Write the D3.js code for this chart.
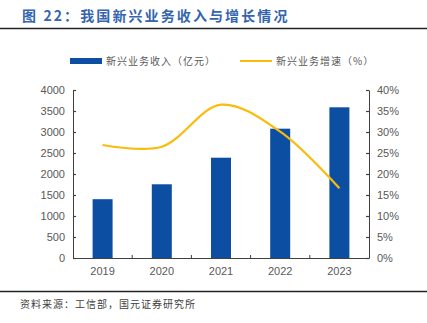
<!DOCTYPE html>
<html>
<script src="https://d3js.org/d3.v7.min.js"></script>
<style>
    body {
        margin: 0;
        background: #fff;
    }

    .tick text {
        font-family: "Liberation Sans", Arial, sans-serif;
        font-size: 11px;
        fill: #595959;
    }

    .tick line,
    .domain {
        stroke: #404040;
    }
</style>

<body>
</body>
<script>
    const years = ["2019", "2020", "2021", "2022", "2023"];
    const revenue = [1400, 1755, 2388, 3079, 3588];
    const growth = [26.9, 26.5, 36.5, 30.1, 16.6];
    const leftTicks = [0, 500, 1000, 1500, 2000, 2500, 3000, 3500, 4000];
    const rightTicks = [0, 5, 10, 15, 20, 25, 30, 35, 40];

    const width = 427,
        height = 323;
    const cjk = "'Noto Sans CJK SC', sans-serif";
    const svg = d3.select("body").append("svg").attr("width", width).attr("height", height);

    // title and rules
    svg.append("text")
        .attr("x", 22)
        .attr("y", 21)
        .attr("font-family", cjk)
        .attr("font-size", 14)
        .attr("font-weight", "bold")
        .attr("letter-spacing", 2.1)
        .attr("fill", "#3565ad")
        .text("图 22：我国新兴业务收入与增长情况");
    svg.append("line")
        .attr("x1", 0).attr("x2", width)
        .attr("y1", 28.5).attr("y2", 28.5)
        .attr("stroke", "#222").attr("stroke-width", 1.5);
    svg.append("line")
        .attr("x1", 0).attr("x2", width)
        .attr("y1", 291.5).attr("y2", 291.5)
        .attr("stroke", "#222").attr("stroke-width", 1.5);
    svg.append("text")
        .attr("x", 20)
        .attr("y", 308)
        .attr("font-family", cjk)
        .attr("font-size", 10)
        .attr("letter-spacing", 1)
        .attr("fill", "#404040")
        .text("资料来源：工信部，国元证券研究所");

    const x = d3.scaleBand()
        .domain(years)
        .range([73, 369]);
    const y = d3.scaleLinear()
        .domain([0, 4000])
        .range([258, 90]);
    const y2 = d3.scaleLinear()
        .domain([0, 40])
        .range([258, 90]);

    const barW = 20;
    svg.selectAll("rect.bar")
        .data(years)
        .join("rect")
        .attr("class", "bar")
        .attr("x", d => x(d) + x.bandwidth() / 2 - barW / 2)
        .attr("y", (d, i) => y(revenue[i]))
        .attr("width", barW)
        .attr("height", (d, i) => y(0) - y(revenue[i]))
        .attr("fill", "#0b4ea2");

    svg.append("path")
        .datum(years)
        .attr("fill", "none")
        .attr("stroke", "#fbbb0a")
        .attr("stroke-width", 2.2)
        .attr("d", d3.line()
            .x(d => x(d) + x.bandwidth() / 2)
            .y((d, i) => y2(growth[i]))
            .curve(d3.curveCatmullRom.alpha(0.5))
        );

    svg.append("g")
        .attr("transform", "translate(73,0)")
        .call(d3.axisLeft(y).tickValues(leftTicks).tickFormat(d3.format("d")).tickSizeInner(-3).tickSizeOuter(0).tickPadding(8))
        .call(g => g.selectAll(".tick line").attr("stroke-width", 1.2));
    svg.append("g")
        .attr("transform", "translate(369,0)")
        .call(d3.axisRight(y2).tickValues(rightTicks).tickFormat(d => d + "%").tickSizeInner(-3).tickSizeOuter(0).tickPadding(8))
        .call(g => g.selectAll(".tick line").attr("stroke-width", 1.2));

    const xAxis = svg.append("g")
        .attr("transform", "translate(0,258)")
        .call(d3.axisBottom(x).tickSize(0).tickPadding(9));
    xAxis.select(".domain").attr("stroke-width", 1.2);
    // category dividers
    xAxis.selectAll("line.div")
        .data(years.slice(1))
        .join("line")
        .attr("class", "div")
        .attr("x1", d => x(d)).attr("x2", d => x(d))
        .attr("y1", 0).attr("y2", -3)
        .attr("stroke", "#404040");

    // legend
    const legend = svg.append("g").attr("font-family", cjk).attr("font-size", 10)
        .attr("letter-spacing", 1).attr("fill", "#595959");
    legend.append("rect").attr("x", 70).attr("y", 58).attr("width", 32).attr("height", 6).attr("fill", "#0b4ea2");
    legend.append("text").attr("x", 106).attr("y", 65).text("新兴业务收入（亿元）");
    legend.append("line").attr("x1", 240).attr("x2", 272).attr("y1", 61).attr("y2", 61)
        .attr("stroke", "#fbbb0a").attr("stroke-width", 2);
    legend.append("text").attr("x", 276).attr("y", 65).text("新兴业务增速（%）");
</script>

</html>
